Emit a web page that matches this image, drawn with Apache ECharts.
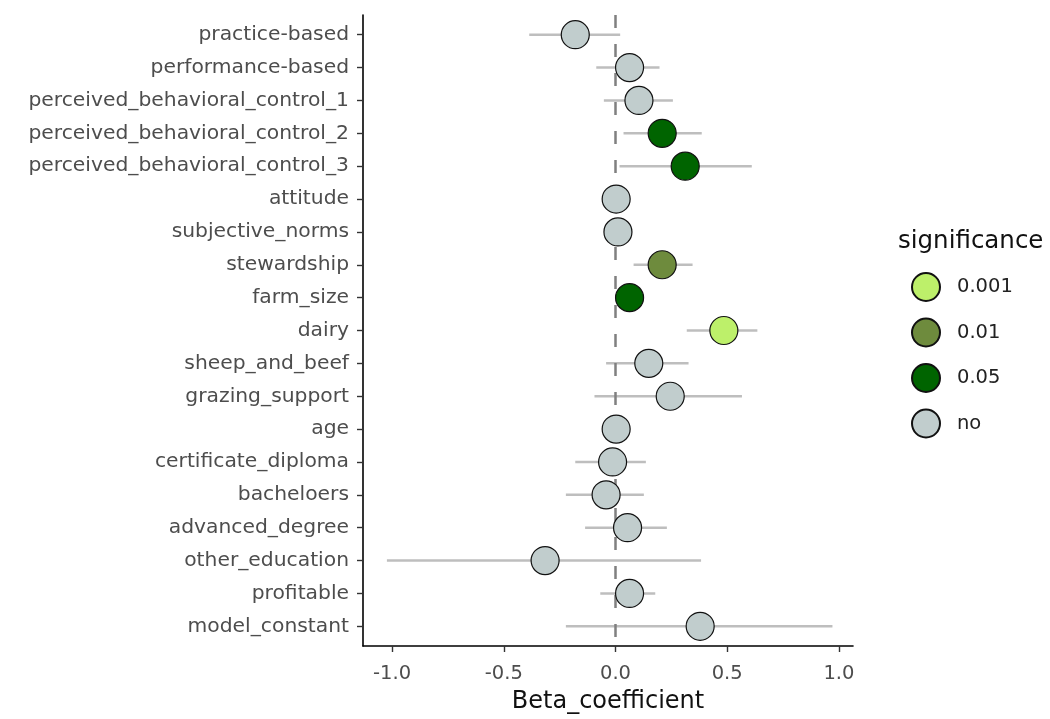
<!DOCTYPE html>
<html>
<head>
<meta charset="utf-8">
<script src="https://cdn.jsdelivr.net/npm/echarts@6/dist/echarts.min.js"></script>
<style>
html,body{margin:0;padding:0;background:#fff;}
#chart{width:1050px;height:719px;}
</style>
</head>
<body>
<div id="chart"></div>
<script>
var categories = ['practice-based','performance-based','perceived_behavioral_control_1','perceived_behavioral_control_2','perceived_behavioral_control_3','attitude','subjective_norms','stewardship','farm_size','dairy','sheep_and_beef','grazing_support','age','certificate_diploma','bacheloers','advanced_degree','other_education','profitable','model_constant'];
var beta  = [-0.18, 0.063, 0.105, 0.209, 0.312, 0.003, 0.011, 0.209, 0.063, 0.485, 0.149, 0.245, 0.003, -0.013, -0.042, 0.054, -0.315, 0.063, 0.379];
var lower = [-0.386, -0.086, -0.052, 0.036, 0.018, -0.02, -0.01, 0.081, 0.01, 0.319, -0.042, -0.094, -0.01, -0.18, -0.222, -0.136, -1.023, -0.068, -0.222];
var upper = [0.021, 0.197, 0.257, 0.386, 0.61, 0.03, 0.03, 0.345, 0.11, 0.635, 0.327, 0.566, 0.02, 0.136, 0.127, 0.23, 0.383, 0.178, 0.971];
var significance = ['no','no','no','0.05','0.05','no','no','0.01','0.05','0.001','no','no','no','no','no','no','no','no','no'];
var sigLevels = ['0.001','0.01','0.05','no'];
var sigColors = ['#bdf06a','#6e8b3d','#006400','#c1cdcd'];
var xTicks = [-1, -0.5, 0, 0.5, 1];

var FONT = 'DejaVu Sans';
var chart = echarts.init(document.getElementById('chart'), null, {renderer:'canvas'});

var yIdx = categories.map(function(_, i){ return i; });

var errData = categories.map(function(_, i){ return [lower[i], upper[i], i]; });

var series = [{
  type: 'custom',
  name: 'errorbars',
  z: 2,
  data: errData,
  encode: {x: [0, 1], y: 2},
  renderItem: function(params, api){
    var p1 = api.coord([api.value(0), api.value(2)]);
    var p2 = api.coord([api.value(1), api.value(2)]);
    return {type:'line', shape:{x1:p1[0], y1:p1[1], x2:p2[0], y2:p2[1]},
      style:{stroke:'#bebebe', lineWidth:2.5}};
  },
  markLine: {
    silent: true, symbol: 'none', z: 3,
    label: {show:false},
    lineStyle: {color:'#808080', type:[13,16], width:2.5},
    data: [{xAxis: 0}]
  }
}];

sigLevels.forEach(function(lv, k){
  var d = [];
  for (var i = 0; i < categories.length; i++) {
    if (significance[i] === lv) d.push([beta[i], i]);
  }
  series.push({
    type: 'scatter', name: lv, z: 5,
    symbol: 'circle', symbolSize: 28,
    itemStyle: {color: sigColors[k], borderColor:'#111', borderWidth:1.2, opacity:1},
    data: d
  });
});

var option = {
  backgroundColor: '#fff',
  animation: false,
  grid: {left: 363, right: 197, top: 15, bottom: 73, containLabel: false},
  xAxis: {
    type: 'value', min: -1.13, max: 1.063,
    name: 'Beta_coefficient', nameLocation: 'middle', nameGap: 44,
    nameTextStyle: {fontFamily: FONT, fontSize: 24, color: '#111'},
    axisLine: {show:true, onZero:false, lineStyle:{color:'#000', width:1.6}},
    axisTick: {show:true, length:6, customValues: xTicks, lineStyle:{color:'#333', width:1.4}},
    axisLabel: {customValues: xTicks, margin: 18, fontFamily: FONT, fontSize: 19.5, color:'#4d4d4d',
      formatter: function(v){ return v.toFixed(1); }},
    splitLine: {show:false}
  },
  yAxis: {
    type: 'value', inverse: true, min: -0.6, max: 18.6,
    axisLine: {show:true, onZero:false, lineStyle:{color:'#000', width:1.6}},
    axisTick: {show:true, length:6, customValues: yIdx, lineStyle:{color:'#333', width:1.4}},
    axisLabel: {customValues: yIdx, margin: 14, fontFamily: FONT, fontSize: 20.3, color:'#4d4d4d',
      formatter: function(v){ return categories[Math.round(v)]; }},
    splitLine: {show:false}
  },
  legend: {
    data: sigLevels,
    orient: 'vertical', left: 906, top: 267,
    icon: 'circle', itemWidth: 28, itemHeight: 28, itemGap: 15.5,
    textStyle: {fontFamily: FONT, fontSize: 19.5, color:'#222', padding:[0,0,0,12]}
  },
  graphic: [{
    type: 'text', left: 898, top: 229,
    style: {text: 'significance', font: '24.5px "DejaVu Sans"', fill: '#111'}
  }],
  series: series
};
chart.setOption(option);
</script>
</body>
</html>
